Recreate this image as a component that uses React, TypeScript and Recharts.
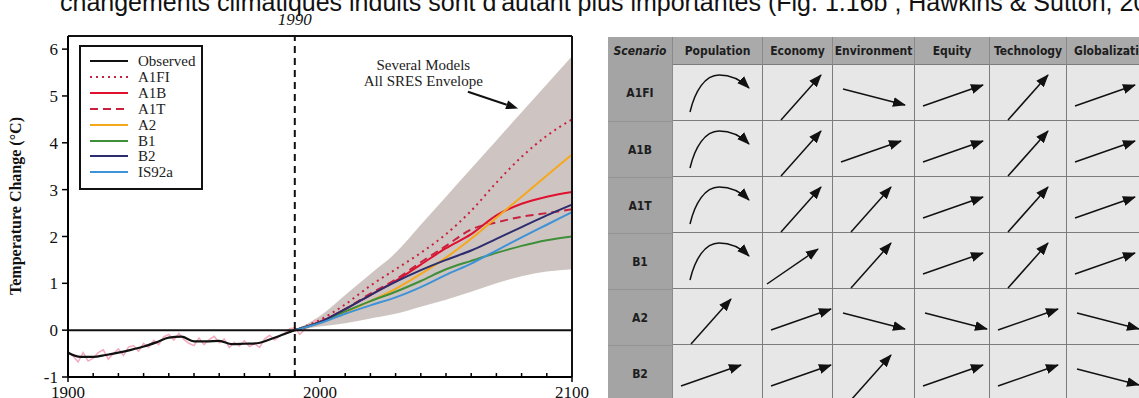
import React from 'react';
import { ComposedChart, Line, Area, XAxis, YAxis, ReferenceLine, ReferenceDot, Label } from 'recharts';

// observed record, anomaly vs 1990 (°C)
const annualYears = [1900, 1902, 1904, 1906, 1908, 1910, 1912, 1914, 1916, 1918, 1920, 1922, 1924, 1926, 1928, 1930, 1932, 1934, 1936, 1938, 1940, 1942, 1944, 1946, 1948, 1950, 1952, 1954, 1956, 1958, 1960, 1962, 1964, 1966, 1968, 1970, 1972, 1974, 1976, 1978, 1980, 1982, 1984, 1986, 1988, 1990, 1992, 1994, 1996, 1998, 2000];
const annualAnomaly = [-0.45, -0.55, -0.68, -0.48, -0.66, -0.6, -0.48, -0.42, -0.62, -0.5, -0.4, -0.54, -0.36, -0.33, -0.45, -0.28, -0.37, -0.22, -0.31, -0.14, -0.09, -0.21, -0.07, -0.2, -0.28, -0.33, -0.17, -0.31, -0.2, -0.13, -0.27, -0.19, -0.37, -0.26, -0.34, -0.23, -0.35, -0.29, -0.37, -0.19, -0.11, -0.21, -0.13, -0.06, 0.03, 0.05, -0.09, 0.02, 0.08, 0.21, 0.12];
const smoothYears = [1900, 1905, 1910, 1915, 1920, 1925, 1930, 1935, 1940, 1945, 1950, 1955, 1960, 1965, 1970, 1975, 1980, 1985, 1990, 1995, 2000];
const smoothObserved = [-0.48, -0.57, -0.57, -0.53, -0.48, -0.42, -0.35, -0.26, -0.16, -0.14, -0.24, -0.24, -0.23, -0.3, -0.29, -0.28, -0.2, -0.1, 0, 0.08, 0.17];

// SRES projections, decadal
const projYears = [1990, 2000, 2010, 2020, 2030, 2040, 2050, 2060, 2070, 2080, 2090, 2100];
const envelopeLow = [0, 0.08, 0.15, 0.25, 0.35, 0.5, 0.65, 0.82, 1.0, 1.15, 1.25, 1.3];
const envelopeHigh = [0, 0.3, 0.75, 1.2, 1.65, 2.25, 2.85, 3.45, 4.05, 4.65, 5.25, 5.85];
const a1fi = [0, 0.22, 0.55, 0.95, 1.3, 1.65, 2.05, 2.55, 3.15, 3.7, 4.15, 4.5];
const a1b = [0, 0.17, 0.45, 0.75, 1.05, 1.4, 1.75, 2.05, 2.45, 2.7, 2.85, 2.95];
const a1t = [0, 0.18, 0.45, 0.78, 1.08, 1.45, 1.8, 2.15, 2.3, 2.42, 2.5, 2.58];
const a2 = [0, 0.15, 0.38, 0.62, 0.88, 1.2, 1.55, 1.95, 2.4, 2.85, 3.3, 3.75];
const b1 = [0, 0.17, 0.4, 0.62, 0.82, 1.05, 1.3, 1.48, 1.65, 1.8, 1.92, 2.0];
const b2 = [0, 0.17, 0.45, 0.75, 1.03, 1.28, 1.5, 1.7, 1.95, 2.2, 2.45, 2.68];
const is92a = [0, 0.15, 0.35, 0.53, 0.7, 0.92, 1.18, 1.42, 1.7, 1.98, 2.25, 2.52];

const yTicks = [-1, 0, 1, 2, 3, 4, 5, 6];
const xTicks = [1900, 1910, 1920, 1930, 1940, 1950, 1960, 1970, 1980, 1990, 2000, 2010, 2020, 2030, 2040, 2050, 2060, 2070, 2080, 2090, 2100];

const series = [
  { key: 'A1FI', color: '#c8203f', dash: '2 4', values: a1fi },
  { key: 'A1B', color: '#e0102f', dash: undefined, values: a1b },
  { key: 'A1T', color: '#c8203f', dash: '8 5', values: a1t },
  { key: 'A2', color: '#f5a81c', dash: undefined, values: a2 },
  { key: 'B1', color: '#3f8f3a', dash: undefined, values: b1 },
  { key: 'B2', color: '#2c2d6e', dash: undefined, values: b2 },
  { key: 'IS92a', color: '#3d92d8', dash: undefined, values: is92a },
];

// scenario table
const drivers = ['Population', 'Economy', 'Environment', 'Equity', 'Technology', 'Globalization'];
const scenarios = ['A1FI', 'A1B', 'A1T', 'B1', 'A2', 'B2'];
const trends = [
  ['hump', 'steep', 'fall', 'rise', 'steep', 'rise'],
  ['hump', 'steep', 'rise', 'rise', 'steep', 'rise'],
  ['hump', 'steep', 'steep', 'rise', 'steep', 'rise'],
  ['hump', 'mid', 'steep', 'rise', 'steep', 'rise'],
  ['steep', 'rise', 'fall', 'fall', 'rise', 'fall'],
  ['rise', 'rise', 'steep', 'rise', 'rise', 'fall'],
];

const rows = new Map<number, Record<string, any>>();
function put(years: number[], key: string, vals: any[]) {
  years.forEach((yr, i) => {
    const row = rows.get(yr) ?? { year: yr };
    row[key] = vals[i];
    rows.set(yr, row);
  });
}
put(annualYears, 'annual', annualAnomaly);
put(smoothYears, 'observed', smoothObserved);
put(projYears, 'envelope', envelopeLow.map((lo, i) => [lo, envelopeHigh[i]]));
series.forEach((s) => put(projYears, s.key, s.values));
const chartData = [...rows.values()].sort((a, b) => a.year - b.year);

const SERIF = '"Liberation Serif", "Times New Roman", serif';
const NARROW = '"Liberation Sans Narrow", "DejaVu Sans Condensed", "Liberation Sans", Arial, sans-serif';

const XTick = ({ x, y, payload }: any) => {
  const major = payload.value % 100 === 0;
  return (
    <g>
      <line x1={x} x2={x} y1={y} y2={major ? y + 5 : y - 4} stroke="#000" strokeWidth={1.5} />
      {major && (
        <text x={x} y={y + 21} textAnchor="middle" fontSize={17} fontFamily={SERIF} fill="#111">
          {payload.value}
        </text>
      )}
    </g>
  );
};

const Arrow = ({ x1, y1, x2, y2 }: any) => {
  const a = Math.atan2(y2 - y1, x2 - x1);
  const L = 12;
  const W = 4.5;
  const bx = x2 - L * Math.cos(a);
  const by = y2 - L * Math.sin(a);
  const px = -Math.sin(a) * W;
  const py = Math.cos(a) * W;
  return (
    <g>
      <line x1={x1} y1={y1} x2={bx} y2={by} stroke="#111" strokeWidth={2} />
      <polygon points={`${x2},${y2} ${bx + px},${by + py} ${bx - px},${by - py}`} fill="#111" />
    </g>
  );
};

function LegendBox() {
  const items = [{ key: 'Observed', color: '#111', dash: undefined as string | undefined }, ...series];
  return (
    <div
      style={{
        position: 'absolute', left: 79, top: 45, width: 120, height: 141,
        border: '2px solid #111', background: '#fff', fontFamily: SERIF, fontSize: 15,
      }}
    >
      {items.map((it, i) => (
        <div key={it.key} style={{ position: 'absolute', left: 9, top: 6 + i * 15.9, height: 16, display: 'flex', alignItems: 'center' }}>
          <svg width={40} height={8} style={{ marginRight: 8 }}>
            <line x1={0} x2={38} y1={4} y2={4} stroke={it.color} strokeWidth={2.2} strokeDasharray={it.dash} />
          </svg>
          <span style={{ color: '#222', lineHeight: '16px' }}>{it.key}</span>
        </div>
      ))}
    </div>
  );
}

const ARROW_PATHS: Record<string, string> = {
  hump: 'M17,47 C22,26 32,10 46,10 C58,10 68,15 76,23',
  steep: 'M18,55 L58,10',
  mid: 'M4,51 L55,16',
  rise: 'M8,41 L68,20',
  fall: 'M10,24 L72,40',
};

function ScenarioTable() {
  const colW = [65, 90, 70, 82, 75, 77, 95];
  const left0 = 608;
  const top0 = 37;
  const headH = 28;
  const rowH = 56;
  const lefts = colW.map((_, i) => left0 + colW.slice(0, i).reduce((s, w) => s + w, 0));
  const cellBase: React.CSSProperties = {
    position: 'absolute', boxSizing: 'border-box', display: 'flex', alignItems: 'center', justifyContent: 'center',
    fontFamily: NARROW, fontWeight: 700, fontSize: 12, color: '#1d1d1d',
  };
  return (
    <div>
      <div style={{ ...cellBase, left: lefts[0], top: top0, width: colW[0], height: headH, background: '#a4a4a4', fontStyle: 'italic', borderRight: '1px solid #8a8a8a' }}>
        Scenario
      </div>
      {drivers.map((d, c) => (
        <div key={d} style={{ ...cellBase, left: lefts[c + 1], top: top0, width: colW[c + 1], height: headH, background: '#aaaaaa', borderRight: '1px solid #8a8a8a', borderBottom: '1px solid #7c7c7c' }}>
          {d}
        </div>
      ))}
      {scenarios.map((s, r) => (
        <React.Fragment key={s}>
          <div style={{ ...cellBase, left: lefts[0], top: top0 + headH + r * rowH, width: colW[0], height: rowH, background: '#a4a4a4', borderTop: r === 0 ? 'none' : '1px solid #949494', borderRight: '1px solid #8a8a8a' }}>
            {s}
          </div>
          {trends[r].map((t, c) => (
            <div key={c} style={{ ...cellBase, left: lefts[c + 1], top: top0 + headH + r * rowH, width: colW[c + 1], height: rowH, background: '#e7e7e7', borderRight: '1px solid #7c7c7c', borderBottom: '1px solid #7c7c7c' }}>
              <svg width={colW[c + 1]} height={rowH} style={{ position: 'absolute', left: 0, top: 0 }}>
                <defs>
                  <marker id={`ah${r}${c}`} markerUnits="userSpaceOnUse" markerWidth={13} markerHeight={10} refX={12} refY={5} orient="auto">
                    <path d="M0,0 L13,5 L0,10 Z" fill="#111" />
                  </marker>
                </defs>
                <path d={ARROW_PATHS[t]} fill="none" stroke="#111" strokeWidth={1.5} markerEnd={`url(#ah${r}${c})`} />
              </svg>
            </div>
          ))}
        </React.Fragment>
      ))}
    </div>
  );
}

export default function App() {
  return (
    <div style={{ position: 'absolute', left: 0, top: 0, width: 1139, height: 398, overflow: 'hidden', background: '#fff' }}>
      <div style={{ position: 'absolute', left: 60, top: -12.5, fontFamily: '"Liberation Sans", Arial, sans-serif', fontSize: 25, whiteSpace: 'nowrap', color: '#111' }}>
        changements climatiques induits sont d'autant plus importantes (Fig. 1.16b ; Hawkins &amp; Sutton, 2009).
      </div>
      <div style={{ position: 'absolute', left: 0, top: 0, width: 600, height: 398 }}>
        <ComposedChart width={600} height={398} data={chartData} margin={{ top: 36, right: 28, bottom: 0, left: 28 }}>
          <XAxis
            dataKey="year" type="number" domain={[1900, 2100]} ticks={xTicks} interval={0}
            height={21} tickSize={0} tickLine={false} tickMargin={0} tick={<XTick />}
            axisLine={{ stroke: '#000', strokeWidth: 2 }}
          />
          <YAxis
            type="number" domain={[-1, 6.28]} ticks={yTicks} interval={0} width={40} allowDataOverflow
            tickSize={6} tickMargin={4} tickLine={{ stroke: '#000', strokeWidth: 1.5 }}
            axisLine={{ stroke: '#000', strokeWidth: 2 }}
            tick={{ fontSize: 17, fontFamily: SERIF, fill: '#111' }}
          >
            <Label
              content={() => (
                <text transform="translate(21,206) rotate(-90)" textAnchor="middle" fontFamily={SERIF} fontWeight={700} fontSize={16} fill="#111">
                  Temperature Change (°C)
                </text>
              )}
            />
          </YAxis>
          <Area
            dataKey="envelope" type="monotone" fill="#cec5c2" fillOpacity={1} stroke="none"
            connectNulls dot={false} activeDot={false} isAnimationActive={false}
          />
          <Line dataKey="annual" type="linear" stroke="#f4a9bd" strokeWidth={1.5} dot={false} connectNulls isAnimationActive={false} />
          <Line dataKey="observed" type="monotone" stroke="#111" strokeWidth={2.2} dot={false} connectNulls isAnimationActive={false} />
          {series.map((s) => (
            <Line
              key={s.key} dataKey={s.key} type="monotone" stroke={s.color} strokeWidth={2}
              strokeDasharray={s.dash} dot={false} connectNulls isAnimationActive={false}
            />
          ))}
          <ReferenceLine y={0} stroke="#111" strokeWidth={2} ifOverflow="visible" />
          <ReferenceLine y={6.28} stroke="#111" strokeWidth={2} ifOverflow="visible" />
          <ReferenceLine x={2100} stroke="#111" strokeWidth={2} ifOverflow="visible" />
          <ReferenceLine x={1990} stroke="#111" strokeWidth={2} strokeDasharray="7 5" ifOverflow="visible">
            <Label
              content={({ viewBox }: any) => (
                <text x={viewBox.x} y={viewBox.y - 11} textAnchor="middle" fontFamily={SERIF} fontStyle="italic" fontSize={17} fill="#111">
                  1990
                </text>
              )}
            />
          </ReferenceLine>
          <ReferenceDot
            x={2041} y={5.5} r={0} ifOverflow="visible"
            shape={({ cx, cy }: any) => (
              <text textAnchor="middle" fontFamily={SERIF} fontSize={15} fill="#222">
                <tspan x={cx} y={cy - 3}>Several Models</tspan>
                <tspan x={cx} y={cy + 13}>All SRES Envelope</tspan>
              </text>
            )}
          />
          <ReferenceLine
            segment={[{ x: 2058.7, y: 5.09 }, { x: 2078.6, y: 4.73 }]} ifOverflow="visible"
            shape={(p: any) => <Arrow {...p} />}
          />
        </ComposedChart>
        <LegendBox />
      </div>
      <ScenarioTable />
    </div>
  );
}
